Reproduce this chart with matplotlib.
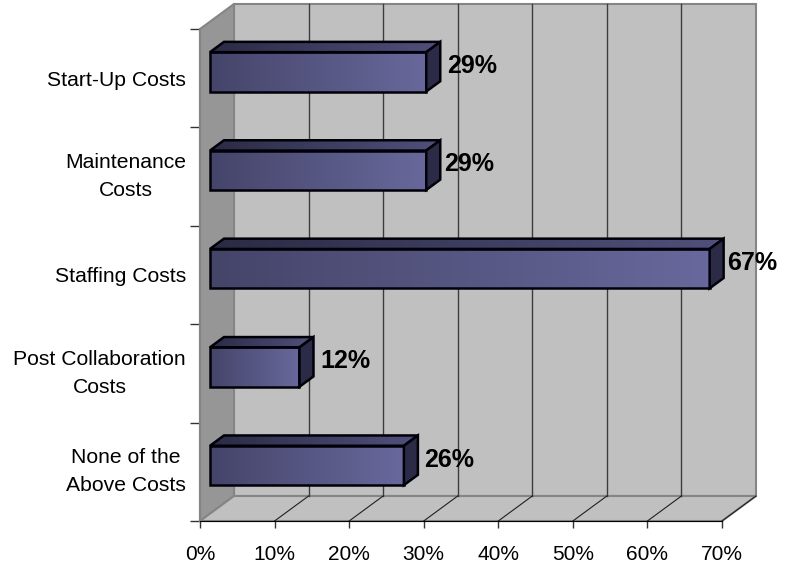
import numpy as np
import matplotlib
matplotlib.use('Agg')
import matplotlib.pyplot as plt
from matplotlib.colors import LinearSegmentedColormap
from matplotlib.patches import Polygon

plt.rcParams['font.family'] = ['Liberation Sans', 'DejaVu Sans']

# Datos
categories = ['Start-Up Costs', 'Maintenance\nCosts', 'Staffing Costs',
              'Post Collaboration\nCosts', 'None of the\nAbove Costs']
values = [29, 29, 67, 12, 26]
value_labels = ['29%', '29%', '67%', '12%', '26%']
x_ticks = [0, 10, 20, 30, 40, 50, 60, 70]
x_tick_labels = ['0%', '10%', '20%', '30%', '40%', '50%', '60%', '70%']

W, H = 790, 564
LEFT, RIGHT, TOP, BOTTOM = 200, 722, 29, 521

fig = plt.figure(figsize=(W / 100, H / 100), dpi=100)
ax = fig.add_axes([LEFT / W, 1 - BOTTOM / H, (RIGHT - LEFT) / W, (BOTTOM - TOP) / H])
ax.set_facecolor('none')

xmax = 70
ncat = len(categories)
# profundidad del efecto 3D, en unidades de datos
dx = 34 / ((RIGHT - LEFT) / xmax)
dy = 25 / ((BOTTOM - TOP) / ncat)
bar_h = 0.40
bar_start = 10 / 34   # fraccion de profundidad donde empieza la barra
bar_depth = 14 / 34

wall_edge = '#858585'


def poly(pts, color, z, edge='none', lw=1.0):
    ax.add_patch(Polygon(pts, closed=True, facecolor=color, edgecolor=edge,
                         linewidth=lw, zorder=z, clip_on=False, joinstyle='miter'))


# Paredes
poly([(dx, 0 - dy), (xmax + dx, 0 - dy), (xmax + dx, ncat - dy), (dx, ncat - dy)],
     '#c0c0c0', 1, wall_edge, 1.5)
poly([(0, 0), (dx, -dy), (dx, ncat - dy), (0, ncat)], '#969696', 1.5, wall_edge, 1.5)
poly([(0, ncat), (dx, ncat - dy), (xmax + dx, ncat - dy), (xmax, ncat)],
     '#c0c0c0', 1.5, wall_edge, 1.5)

# Lineas de la cuadricula
for t in x_ticks[1:-1]:
    ax.plot([t + dx, t + dx], [-dy, ncat - dy], color='#3c3c3c', lw=1.0, zorder=2, clip_on=False)
for t in x_ticks[1:]:
    ax.plot([t, t + dx], [ncat, ncat - dy], color='#202020', lw=0.8, zorder=2, clip_on=False)

front_cmap = LinearSegmentedColormap.from_list('front', ['#45456a', '#68689c'])
top_cmap = LinearSegmentedColormap.from_list('top', ['#2b2b45', '#50507c'])
grad = np.linspace(0, 1, 128).reshape(1, -1)

# Barras
nudge = [21, 18, 17, 21, 20]
for i, v in enumerate(values):
    x0 = dx * bar_start
    x1 = v + x0
    cy = i + 0.5 - dy * bar_start + 0.01
    y0, y1 = cy - bar_h / 2, cy + bar_h / 2
    ddx, ddy = dx * bar_depth, dy * bar_depth

    # cara frontal con degradado
    ax.imshow(grad, cmap=front_cmap, extent=(x0, x1, y1, y0), aspect='auto',
              zorder=5, interpolation='bilinear')
    poly([(x0, y0), (x1, y0), (x1, y1), (x0, y1)], 'none', 6, '#000008', 1.8)

    # cara superior
    top = Polygon([(x0, y0), (x0 + ddx, y0 - ddy), (x1 + ddx, y0 - ddy), (x1, y0)],
                  closed=True, facecolor='none', edgecolor='none', clip_on=False)
    ax.add_patch(top)
    im = ax.imshow(grad, cmap=top_cmap, extent=(x0, x1 + ddx, y0, y0 - ddy),
                   aspect='auto', zorder=5, interpolation='bilinear')
    im.set_clip_path(top)
    poly([(x0, y0), (x0 + ddx, y0 - ddy), (x1 + ddx, y0 - ddy), (x1, y0)],
         'none', 6, '#000008', 1.8)

    # cara lateral
    poly([(x1, y0), (x1 + ddx, y0 - ddy), (x1 + ddx, y1 - ddy), (x1, y1)],
         '#2b2b48', 6, '#000008', 1.8)

    ax.annotate(value_labels[i], xy=(x1, cy), xytext=(nudge[i] * 0.72, 4.2),
                textcoords='offset points', ha='left', va='center',
                fontsize=18, fontweight='bold', color='black', zorder=8,
                annotation_clip=False)

ax.set_xlim(0, xmax)
ax.set_ylim(ncat, 0)

for name in ['top', 'right']:
    ax.spines[name].set_visible(False)
ax.spines['bottom'].set_color('black')
ax.spines['bottom'].set_zorder(3)
ax.spines['left'].set_color(wall_edge)
ax.spines['left'].set_linewidth(1.5)

ax.set_xticks(x_ticks)
ax.set_xticklabels(x_tick_labels, fontsize=15)
ax.tick_params(axis='x', length=5, width=1, color='#333333', pad=12)

# marcas entre categorias, etiquetas centradas en categoria
ax.set_yticks(np.arange(ncat + 1))
ax.set_yticklabels([])
ax.tick_params(axis='y', which='major', length=7.5, width=1, color='#333333')
ax.set_yticks(np.arange(ncat) + 0.5, minor=True)
ax.set_yticklabels(categories, minor=True, fontsize=15.2)
ax.tick_params(axis='y', which='minor', length=0, pad=10)
for lab in ax.get_yticklabels(minor=True):
    lab.set_multialignment('center')
    lab.set_linespacing(1.6)
    # las de dos lineas se centran como bloque
    if '\n' in lab.get_text():
        lab.set_verticalalignment('center')

fig.savefig('out.png', dpi=100, facecolor='white')
